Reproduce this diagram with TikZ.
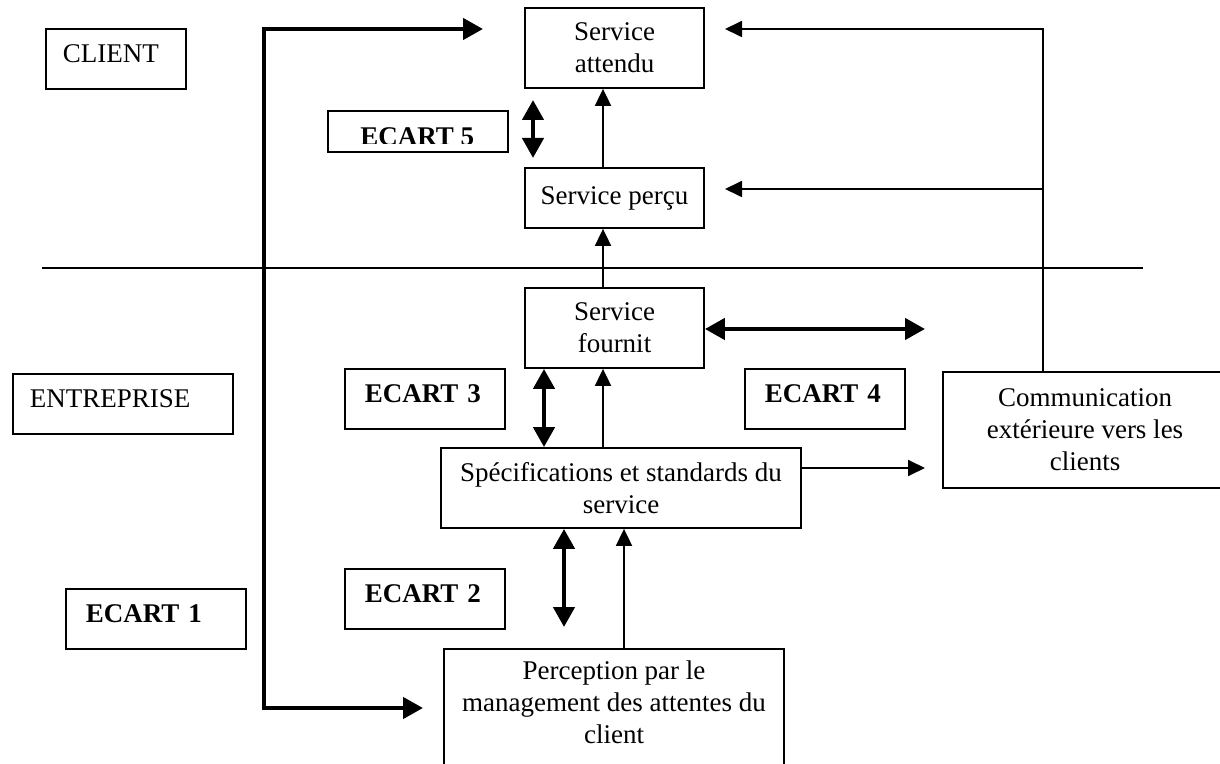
\documentclass[tikz,border=0pt]{standalone}
\usepackage{fontspec}
\setmainfont{Liberation Serif}
\usetikzlibrary{arrows.meta,positioning}

\begin{document}
\begin{tikzpicture}[x=0.5pt,y=-0.5pt,font=\fontsize{13.5}{16}\selectfont]

\tikzset{
    box/.style={draw, line width=0.9pt, align=center, minimum width=#1},
    label box/.style={draw, line width=0.9pt, anchor=north west, minimum height=30pt,
        text depth=5pt, inner xsep=8.5pt, text width=#1, align=left},
    ecart/.style={label box=#1, inner xsep=10pt, font=\fontsize{13.5}{16}\selectfont\bfseries},
    thin arrow/.style={line width=0.9pt, -{Triangle[length=8.5pt,width=8pt]}},
    gap arrow/.style={line width=2.2pt,
        {Triangle[length=10pt,width=10.5pt]}-{Triangle[length=10pt,width=10.5pt]}}
}

\useasboundingbox (0,0) rectangle (1220,764);
\clip (0,0) rectangle (1220,764);

\node[box=89.5pt, minimum height=40pt] (attendu) at (614.5,48) {Service\\attendu};
\node[box=89.5pt, minimum height=30pt] (percu) at (614.5,198) {Service perçu};
\node[box=89.5pt, minimum height=40pt] (fournit) at (614.5,328) {Service\\fournit};
\node[box=180pt, minimum height=40pt] (specs) at (621,488) {Spécifications et standards du\\service};
\node[box=170pt, minimum height=70pt, anchor=north] (percep) at (614,648) {};
\node[anchor=north, align=center] (perceptxt) at ([yshift=-3pt]percep.north)
    {Perception par le\\management des attentes du\\client};
\node[box=142pt, minimum height=58pt] (comm) at (1085,430)
    {Communication\\extérieure vers les\\clients};

\node[label box=53pt] (client) at (45,28) {CLIENT};
\node[label box=93pt] (entreprise) at (12,373) {ENTREPRISE};
\node[ecart=70pt] (ecart1) at (65,588) {ECART 1};
\node[ecart=60pt] (ecart2) at (344,568) {ECART 2};
\node[ecart=60pt] (ecart3) at (344,368) {ECART 3};
\node[ecart=60pt] (ecart4) at (744,368) {ECART 4};
\node[ecart=70pt, minimum height=20.5pt] (ecart5) at (327,110) {};
\begin{scope}
    \clip (ecart5.north west) rectangle ([yshift=4.5pt]ecart5.south east);
    \node[font=\fontsize{13.5}{16}\selectfont\bfseries, anchor=north west, inner sep=0pt]
        (ecart5txt) at (360,127) {ECART 5};
\end{scope}

\draw[line width=0.9pt] (42,268) -- (1143,268);

% flux de service
\coordinate (colA) at (603,0);
\coordinate (colB) at (624,0);
\draw[thin arrow] (percu.north -| colA) -- (attendu.south -| colA);
\draw[thin arrow] (fournit.north -| colA) -- (percu.south -| colA);
\draw[thin arrow] (specs.north -| colA) -- (fournit.south -| colA);
\draw[thin arrow] (percep.north -| colB) -- (specs.south -| colB);

\coordinate (spout) at (925,468);
\draw[thin arrow] (specs.east |- spout) -- (spout);

\coordinate (colD) at (1043,0);
\coordinate (attin) at (725,29);
\coordinate (percin) at (725,189);
\draw[thin arrow] (comm.north -| colD) -- (colD |- attin) -- (attin);
\draw[thin arrow] (colD |- percin) -- (percin);

% ecarts
\coordinate (g5a) at (533,100);
\coordinate (g5b) at (533,158);
\draw[gap arrow] (g5a) -- (g5b);
\coordinate (colC) at (544,0);
\draw[gap arrow] (fournit.south -| colC) -- (specs.north -| colC);
\coordinate (g2) at (564,627);
\draw[gap arrow] (specs.south -| g2) -- (g2);
\coordinate (g4) at (925,329);
\draw[gap arrow] (fournit.east |- g4) -- (g4);

\coordinate (toperc) at (423,708);
\coordinate (lbot) at (264,708);
\coordinate (ltop) at (264,29);
\coordinate (toatt) at (483,29);
\draw[gap arrow] (toperc) -- (lbot) -- (ltop) -- (toatt);

\end{tikzpicture}
\end{document}
